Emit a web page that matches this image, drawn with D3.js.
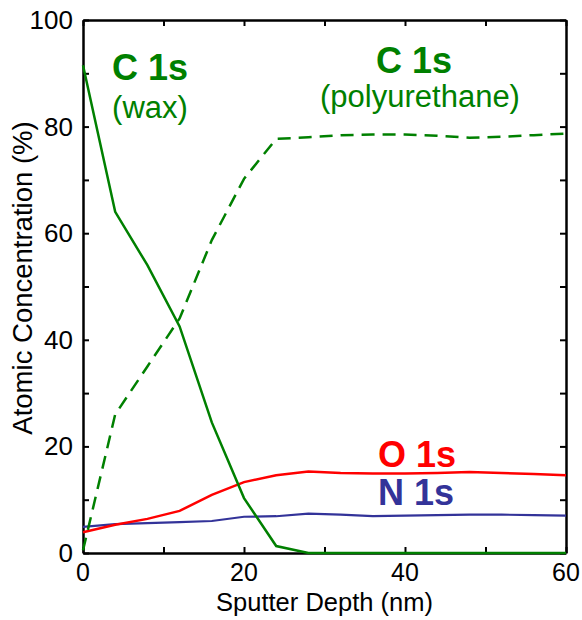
<!DOCTYPE html>
<html>
<head>
<meta charset="utf-8">
<script src="https://cdn.jsdelivr.net/npm/d3@7"></script>
<style>
  body { margin: 0; background: #fff; }
  svg { display: block; font-family: "Liberation Sans", Arial, sans-serif; }
</style>
</head>
<body>
<div id="chart"></div>
<script>
// sputter depth (nm) and atomic concentrations (%)
var depth = [0, 4, 8, 12, 16, 20, 24, 28, 32, 36, 40, 44, 48, 52, 56, 60];
var waxC  = [91.5, 64, 54, 42.5, 24.5, 10.3, 1.3, 0, 0, 0, 0, 0, 0, 0, 0, 0];
var polyC = [0.5, 26, 35, 44, 58.7, 70.2, 77.7, 78, 78.4, 78.5, 78.5, 78.3, 77.9, 78.1, 78.4, 78.7];
var o1s   = [3.9, 5.3, 6.4, 7.9, 10.9, 13.3, 14.6, 15.3, 15.0, 14.9, 14.9, 15.0, 15.2, 15.0, 14.8, 14.6];
var n1s   = [4.9, 5.4, 5.6, 5.8, 6.0, 6.8, 6.9, 7.4, 7.2, 6.9, 7.0, 7.1, 7.2, 7.2, 7.1, 7.0];
var xTicks = [0, 20, 40, 60];
var yTicks = [0, 20, 40, 60, 80, 100];

var W = 582, H = 620;
var m = {top: 20, right: 16, bottom: 67, left: 83};

var svg = d3.select("#chart").append("svg")
  .attr("width", W).attr("height", H);

var x = d3.scaleLinear().domain([0, 60]).range([m.left, W - m.right]);
var y = d3.scaleLinear().domain([0, 100]).range([H - m.bottom, m.top]);

var green = "#008000", red = "#ff0000", blue = "#333399";

// axes, ticks pointing inward on all four sides
var minorX = d3.range(0, 61, 10), minorY = d3.range(0, 101, 10);
svg.append("g").attr("transform", "translate(0," + y(0) + ")")
  .call(d3.axisBottom(x).tickValues(minorX).tickSizeInner(-6).tickSizeOuter(0).tickFormat(""));
svg.append("g").attr("transform", "translate(0," + y(100) + ")")
  .call(d3.axisTop(x).tickValues(minorX).tickSizeInner(-6).tickSizeOuter(0).tickFormat(""));
svg.append("g").attr("transform", "translate(" + x(0) + ",0)")
  .call(d3.axisLeft(y).tickValues(minorY).tickSizeInner(-6).tickSizeOuter(0).tickFormat(""));
svg.append("g").attr("transform", "translate(" + x(60) + ",0)")
  .call(d3.axisRight(y).tickValues(minorY).tickSizeInner(-6).tickSizeOuter(0).tickFormat(""));
svg.selectAll(".domain").attr("stroke", "#000").attr("stroke-width", 2.5);
svg.selectAll(".tick line").attr("stroke", "#000").attr("stroke-width", 2);

// tick labels
svg.selectAll(".xlab").data(xTicks).enter().append("text")
  .attr("x", function (d) { return x(d); })
  .attr("y", 581)
  .attr("text-anchor", "middle")
  .style("font-size", "25px")
  .text(function (d) { return d; });
svg.selectAll(".ylab").data(yTicks).enter().append("text")
  .attr("x", 73)
  .attr("y", function (d) { return y(d) + 9; })
  .attr("text-anchor", "end")
  .style("font-size", "26px")
  .text(function (d) { return d; });

// axis titles
svg.append("text")
  .attr("x", (x(0) + x(60)) / 2).attr("y", 611)
  .attr("text-anchor", "middle")
  .style("font-size", "25.5px")
  .text("Sputter Depth (nm)");
svg.append("text")
  .attr("transform", "translate(32,278) rotate(-90)")
  .attr("text-anchor", "middle")
  .style("font-size", "27.5px")
  .text("Atomic Concentration (%)");

// series
var line = d3.line()
  .x(function (d, i) { return x(depth[i]); })
  .y(function (d) { return y(d); });

svg.append("path").datum(n1s).attr("d", line)
  .attr("fill", "none").attr("stroke", blue).attr("stroke-width", 2.2);
svg.append("path").datum(o1s).attr("d", line)
  .attr("fill", "none").attr("stroke", red).attr("stroke-width", 2.5);
svg.append("path").datum(polyC).attr("d", line)
  .attr("fill", "none").attr("stroke", green).attr("stroke-width", 2.5)
  .attr("stroke-dasharray", "13,8");
svg.append("path").datum(waxC).attr("d", line)
  .attr("fill", "none").attr("stroke", green).attr("stroke-width", 2.5);

// labels in the plot
function label(tx, ty, str, col, size, bold, anchor) {
  svg.append("text")
    .attr("x", tx).attr("y", ty)
    .attr("text-anchor", anchor || "middle")
    .style("font-size", size + "px")
    .style("font-weight", bold ? "bold" : "normal")
    .attr("fill", col)
    .text(str);
}
label(150, 80, "C 1s", green, 36, true);
label(150, 118, "(wax)", green, 31);
label(414, 73, "C 1s", green, 36, true);
label(420, 107, "(polyurethane)", green, 31);
label(378, 467, "O 1s", red, 36, true, "start");
label(378, 505, "N 1s", blue, 36, true, "start");
</script>
</body>
</html>
